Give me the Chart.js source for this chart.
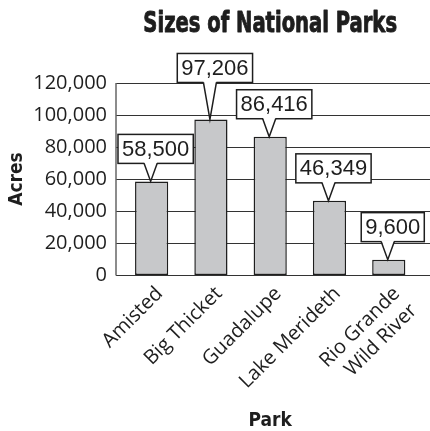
<!DOCTYPE html>
<html>
<head>
<meta charset="utf-8">
<title>Sizes of National Parks</title>
<script src="https://cdn.jsdelivr.net/npm/chart.js@4/dist/chart.umd.min.js"></script>
<style>
  html, body { margin: 0; padding: 0; background: #fff; }
  #chart { display: block; }
</style>
</head>
<body>
<canvas id="chart" width="430" height="431"></canvas>
<script>
// data
const parks = ['Amisted', 'Big Thicket', 'Guadalupe', 'Lake Merideth', ['Rio Grande', 'Wild River']];
const acres = [58500, 97206, 86416, 46349, 9600];
const yTicks = [0, 20000, 40000, 60000, 80000, 100000, 120000];

const fmt = v => v.toLocaleString('en-US');
const INK = '#1e1e1e';

// horizontal rules + left axis line, running a bit past the plot area
const rules = {
  id: 'rules',
  beforeDatasetsDraw(chart, args, o) {
    const ctx = chart.ctx;
    const y = chart.scales.y;
    ctx.save();
    ctx.strokeStyle = o.color;
    ctx.lineWidth = 1;
    yTicks.forEach(t => {
      const py = Math.round(y.getPixelForValue(t)) + 0.5;
      ctx.beginPath();
      ctx.moveTo(o.left, py);
      ctx.lineTo(chart.width, py);
      ctx.stroke();
    });
    ctx.lineWidth = 1.5;
    ctx.strokeStyle = o.axisColor;
    ctx.beginPath();
    ctx.moveTo(o.left, y.getPixelForValue(120000));
    ctx.lineTo(o.left, y.getPixelForValue(0) + 0.5);
    ctx.stroke();
    ctx.restore();
  }
};

// value boxes with a pointer down to the bar top
const callouts = {
  id: 'callouts',
  afterDatasetsDraw(chart, args, o) {
    const ctx = chart.ctx;
    const meta = chart.getDatasetMeta(0);
    ctx.save();
    ctx.font = o.font;
    ctx.textAlign = 'center';
    ctx.textBaseline = 'middle';
    meta.data.forEach((bar, i) => {
      const text = fmt(acres[i]);
      const w = ctx.measureText(text).width + o.padX * 2;
      const h = o.height;
      let cx = bar.x + o.shiftX;
      cx = Math.min(cx, chart.width - o.edge - w / 2);
      const bottom = bar.y - o.gap - (o.lift[i] || 0);
      const top = bottom - h;
      const left = cx - w / 2;

      ctx.lineWidth = 1.5;
      ctx.strokeStyle = INK;
      ctx.fillStyle = '#fff';
      ctx.fillRect(left, top, w, h);
      ctx.strokeRect(left, top, w, h);

      const bx = bar.x - 1;
      ctx.beginPath();
      ctx.moveTo(bx - o.base / 2, bottom - 1.5);
      ctx.lineTo(bx, bar.y);
      ctx.lineTo(bx + o.base / 2, bottom - 1.5);
      ctx.closePath();
      ctx.fill();
      ctx.beginPath();
      ctx.moveTo(bx - o.base / 2, bottom);
      ctx.lineTo(bx, bar.y);
      ctx.lineTo(bx + o.base / 2, bottom);
      ctx.stroke();

      ctx.fillStyle = INK;
      ctx.fillText(text, cx, top + h / 2 + 1);
    });
    ctx.restore();
  }
};

// heavy condensed heading
const heading = {
  id: 'heading',
  afterDraw(chart, args, o) {
    const { ctx, chartArea } = chart;
    ctx.save();
    ctx.font = o.font;
    ctx.fillStyle = INK;
    ctx.strokeStyle = INK;
    ctx.lineWidth = o.weight;
    ctx.lineJoin = 'round';
    ctx.textAlign = 'center';
    ctx.textBaseline = 'alphabetic';
    ctx.translate((chartArea.left + chartArea.right) / 2, o.baseline);
    ctx.scale(o.squeeze, 1);
    ctx.fillText(o.text, 0, 0);
    ctx.strokeText(o.text, 0, 0);
    ctx.restore();
  }
};

new Chart(document.getElementById('chart'), {
  type: 'bar',
  data: {
    labels: parks,
    datasets: [{
      data: acres,
      backgroundColor: '#c7c8ca',
      borderColor: INK,
      borderWidth: 1.5,
      borderSkipped: false,
      categoryPercentage: 1,
      barPercentage: 0.56
    }]
  },
  options: {
    responsive: false,
    animation: false,
    layout: { padding: { top: 83, right: 3, bottom: 0, left: 0 } },
    plugins: {
      legend: { display: false },
      tooltip: { enabled: false },
      rules: { left: 116, color: '#333', axisColor: '#666' },
      callouts: {
        font: '22px "Liberation Sans", Arial, sans-serif',
        padX: 4, height: 29, gap: 18, shiftX: 4, edge: 2, base: 13,
        lift: [0, 19, 0, 0, 0]
      },
      heading: {
        text: 'Sizes of National Parks',
        font: 'bold 29px "DejaVu Sans Condensed", "DejaVu Sans", sans-serif',
        baseline: 32, squeeze: 0.75, weight: 0.9
      }
    },
    scales: {
      x: {
        grid: { display: false, drawTicks: false },
        border: { display: false },
        ticks: {
          color: INK,
          font: { family: '"Open Sans", sans-serif', size: 20 },
          minRotation: 45, maxRotation: 45, padding: 7,
          labelOffset: 8,
          autoSkip: false
        },
        title: {
          display: true, text: 'Park', color: INK,
          font: { family: '"DejaVu Sans Condensed", "DejaVu Sans", sans-serif', size: 19, weight: 'bold', lineHeight: 1 },
          padding: { top: 0, bottom: 0 }
        },
        afterFit: s => { s.height = 156; }
      },
      y: {
        min: 0, max: 120000,
        afterBuildTicks: s => { s.ticks = yTicks.map(v => ({ value: v })); },
        grid: { display: false, drawTicks: false },
        border: { display: false },
        ticks: {
          color: INK,
          font: { family: '"Open Sans", sans-serif', size: 20 },
          padding: 15,
          callback: v => fmt(v)
        },
        title: {
          display: true, text: 'Acres', color: INK,
          font: { family: '"DejaVu Sans Condensed", "DejaVu Sans", sans-serif', size: 19, weight: 'bold' },
          padding: { top: 6, bottom: 0 }
        },
        afterFit: s => { s.width = 122; }
      }
    }
  },
  plugins: [rules, callouts, heading]
});
</script>
</body>
</html>
